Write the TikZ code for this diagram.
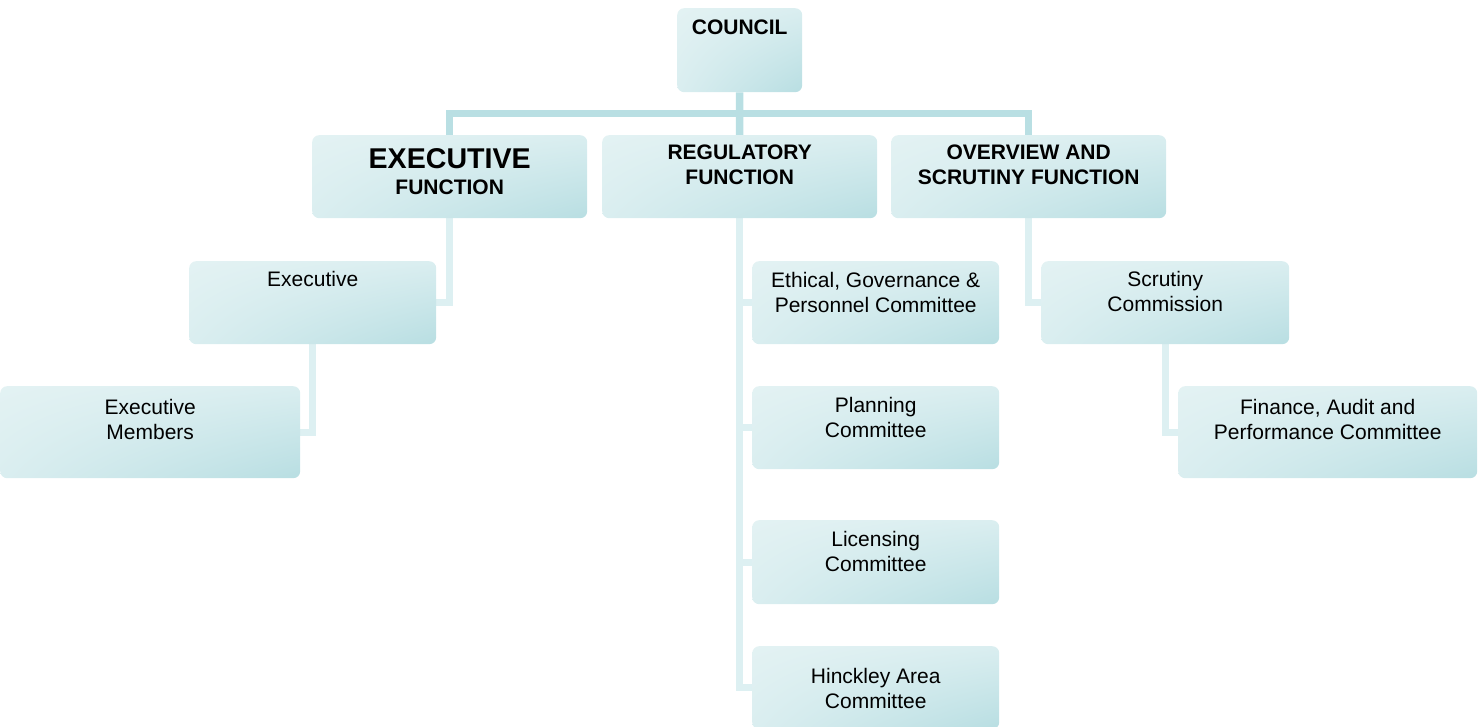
\documentclass[tikz,border=0pt]{standalone}
\usepackage{fontspec}
\setmainfont{Liberation Sans}
\usetikzlibrary{backgrounds,shadings}
\definecolor{boxlight}{RGB}{227,242,243}
\definecolor{boxmid}{RGB}{218,238,240}
\definecolor{boxdark}{RGB}{184,222,226}
\definecolor{busline}{RGB}{185,223,227}
\definecolor{linkline}{RGB}{221,240,242}
\begin{document}
\begin{tikzpicture}[x=1pt,y=-1pt,
  orgbox/.style={rectangle, rounded corners=7pt, inner sep=0pt, anchor=north west,
    upper left=boxlight, upper right=boxmid, lower left=boxmid, lower right=boxdark},
  wbox/.style={orgbox, minimum width=#1},
  label/.style={anchor=north, inner sep=0pt, align=center,
    font=\fontsize{21}{25}\selectfont},
  headlabel/.style={label, font=\fontsize{21}{25}\selectfont\bfseries},
  bus/.style={draw=busline, line width=7.5pt, line join=miter},
  link/.style={draw=linkline, line width=7pt, line join=miter}]
\useasboundingbox (0,0) rectangle (1480,727);

% top level and the three functions
\node[orgbox, minimum width=125pt, minimum height=84pt] (council) at (677,8) {};
\node[orgbox, minimum width=275pt, minimum height=83pt] (exf) at (312,135) {};
\node[orgbox, minimum width=275pt, minimum height=83pt] (reg) at (602,135) {};
\node[orgbox, minimum width=275pt, minimum height=83pt] (ovf) at (891,135) {};

% executive branch
\node[orgbox, minimum width=247pt, minimum height=83pt] (exe) at (189,261) {};
\node[orgbox, minimum width=300pt, minimum height=92pt] (mem) at (0,386) {};

% regulatory committees
\node[orgbox, minimum width=247pt, minimum height=83pt] (eth) at (752,261) {};
\node[orgbox, minimum width=247pt, minimum height=83pt] (pla) at (752,386) {};
\node[orgbox, minimum width=247pt, minimum height=84pt] (lic) at (752,520) {};
\node[orgbox, minimum width=247pt, minimum height=83pt] (hin) at (752,646) {};

% overview and scrutiny branch
\node[orgbox, minimum width=248pt, minimum height=83pt] (scr) at (1041,261) {};
\node[orgbox, minimum width=299pt, minimum height=92pt] (fin) at (1178,386) {};

% labels
\node[headlabel] (t-council) at ([yshift=-12pt]council.north) {COUNCIL};
\node[headlabel] (t-exf) at ([yshift=-13pt]exf.north)
  {{\fontsize{28.6}{30}\selectfont EXECUTIVE}\\[1.5pt]FUNCTION};
\node[headlabel] (t-reg) at ([yshift=-10pt]reg.north) {REGULATORY\\FUNCTION};
\node[headlabel] (t-ovf) at ([yshift=-10pt]ovf.north) {OVERVIEW AND\\SCRUTINY FUNCTION};
\node[label] (t-exe) at ([yshift=-10pt]exe.north) {Executive};
\node[label] (t-mem) at ([yshift=-13pt]mem.north) {Executive\\Members};
\node[label] (t-eth) at ([yshift=-11pt]eth.north) {Ethical, Governance \&\\Personnel Committee};
\node[label] (t-pla) at ([yshift=-11pt]pla.north) {Planning\\Committee};
\node[label] (t-lic) at ([yshift=-11pt]lic.north) {Licensing\\Committee};
\node[label] (t-hin) at ([yshift=-22pt]hin.north) {Hinckley Area\\Committee};
\node[label] (t-scr) at ([yshift=-10pt]scr.north) {Scrutiny\\Commission};
\node[label] (t-fin) at ([yshift=-13pt]fin.north) {Finance, Audit and\\Performance Committee};

\coordinate (hub) at (739.5,113.5);

\begin{pgfonlayer}{background}
  % council to the three functions
  \draw[bus] (council.south) -- (hub);
  \draw[bus] (exf.north) |- (hub) -| (ovf.north);
  \draw[bus] (hub) -- (reg.north);
  % executive function
  \draw[link] (exf.south) |- (exe.east);
  \draw[link] (exe.south) |- (mem.east);
  % regulatory function
  \draw[link] (reg.south) |- (hin.west);
  \draw[link] (reg.south) |- (eth.west);
  \draw[link] (reg.south) |- (pla.west);
  \draw[link] (reg.south) |- (lic.west);
  % overview and scrutiny function
  \draw[link] (ovf.south) |- (scr.west);
  \draw[link] (scr.south) |- (fin.west);
\end{pgfonlayer}
\end{tikzpicture}
\end{document}
